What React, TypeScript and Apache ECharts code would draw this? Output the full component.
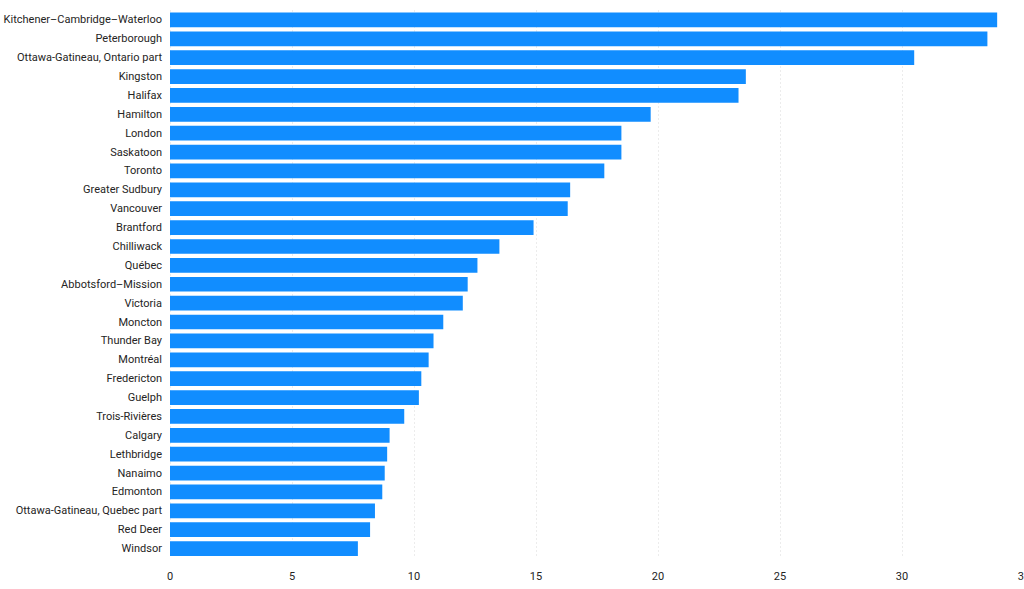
import React, { useEffect, useRef } from "react";
import * as echarts from "echarts";

const categories = [
  "Kitchener–Cambridge–Waterloo",
  "Peterborough",
  "Ottawa-Gatineau, Ontario part",
  "Kingston",
  "Halifax",
  "Hamilton",
  "London",
  "Saskatoon",
  "Toronto",
  "Greater Sudbury",
  "Vancouver",
  "Brantford",
  "Chilliwack",
  "Québec",
  "Abbotsford–Mission",
  "Victoria",
  "Moncton",
  "Thunder Bay",
  "Montréal",
  "Fredericton",
  "Guelph",
  "Trois-Rivières",
  "Calgary",
  "Lethbridge",
  "Nanaimo",
  "Edmonton",
  "Ottawa-Gatineau, Quebec part",
  "Red Deer",
  "Windsor",
];

const values = [
  33.9, 33.5, 30.5, 23.6, 23.3, 19.7, 18.5, 18.5, 17.8, 16.4, 16.3, 14.9, 13.5,
  12.6, 12.2, 12.0, 11.2, 10.8, 10.6, 10.3, 10.2, 9.6, 9.0, 8.9, 8.8, 8.7, 8.4,
  8.2, 7.7,
];

const xMin = 0;
const xMax = 35;
const xInterval = 5;

export default function App() {
  const ref = useRef<HTMLDivElement>(null);
  useEffect(() => {
    document.body.style.margin = "0";
    document.body.style.overflow = "hidden";
    const chart = echarts.init(ref.current!, undefined, { renderer: "svg" });
    const font = "Roboto, 'Noto Sans', sans-serif";
    chart.setOption({
      animation: false,
      grid: {
        left: 170,
        right: 0,
        top: 10.5,
        bottom: 31,
        containLabel: false,
        outerBoundsMode: "none",
      },
      xAxis: {
        type: "value",
        min: xMin,
        max: xMax,
        interval: xInterval,
        axisLine: { show: false },
        axisTick: { show: false },
        axisLabel: { color: "#252423", fontSize: 11, fontFamily: font, margin: 13 },
        splitLine: {
          show: true,
          lineStyle: { color: "#d9d9d9", type: [1, 3], width: 1 },
        },
      },
      yAxis: {
        type: "category",
        inverse: true,
        data: categories,
        axisLine: { show: false },
        axisTick: { show: false },
        axisLabel: { color: "#252423", fontSize: 11, fontFamily: font, margin: 8 },
        splitLine: { show: false },
      },
      series: [
        {
          type: "bar",
          data: values,
          barCategoryGap: "22%",
          itemStyle: { color: "#118DFF" },
        },
      ],
    });
    return () => chart.dispose();
  }, []);
  return <div ref={ref} style={{ width: 1024, height: 589 }} />;
}
